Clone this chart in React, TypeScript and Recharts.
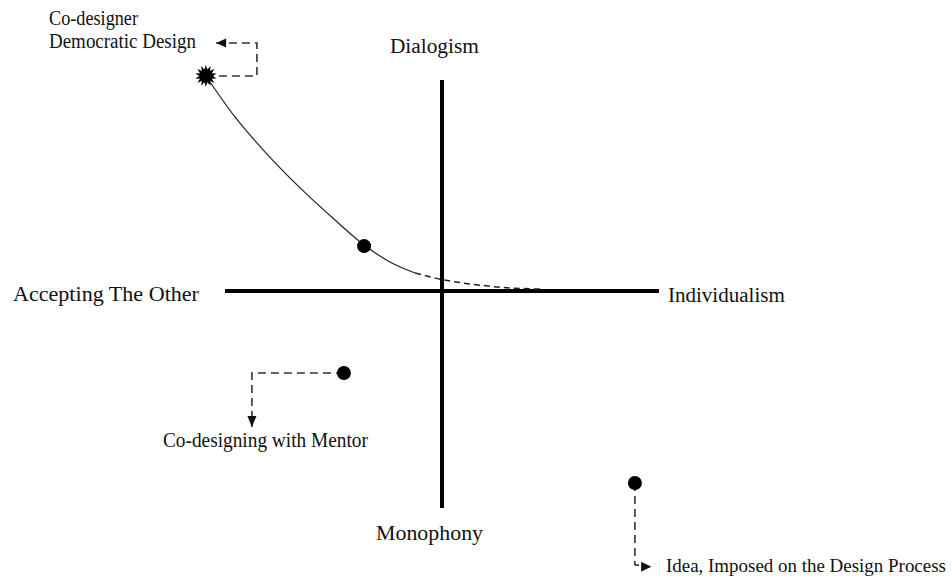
import React from 'react';
import { ComposedChart, XAxis, YAxis, Line, Scatter, ReferenceLine } from 'recharts';

// Conceptual space: the two axes span -1..1 in both directions
const horizontalAxis = [{ x: -1, y: 0 }, { x: 1, y: 0 }];
const verticalAxis = [{ x: 0, y: -1 }, { x: 0, y: 0.972 }];

// Trajectory from co-designer toward individualism
const curveSolid = [
  { x: -1.088, y: 0.991 },
  { x: -0.954, y: 0.802 },
  { x: -0.816, y: 0.641 },
  { x: -0.654, y: 0.475 },
  { x: -0.493, y: 0.327 },
  { x: -0.359, y: 0.212 },
  { x: -0.24, y: 0.134 },
  { x: -0.124, y: 0.083 },
];
const curveDashed = [
  { x: -0.124, y: 0.083 },
  { x: 0, y: 0.053 },
  { x: 0.175, y: 0.027 },
  { x: 0.313, y: 0.014 },
  { x: 0.461, y: 0.009 },
];

const starPoint = [{ x: -1.088, y: 0.991 }];
const milestones = [
  { x: -0.359, y: 0.207 },
  { x: -0.452, y: -0.378 },
  { x: 0.889, y: -0.885 },
];

const starConnector = [
  { x: -1.088, y: 0.991 },
  { x: -0.853, y: 0.991 },
  { x: -0.853, y: 1.143 },
  { x: -1.041, y: 1.143 },
];
const mentorConnector = [
  { x: -0.452, y: -0.378 },
  { x: -0.876, y: -0.378 },
  { x: -0.876, y: -0.627 },
];
const ideaConnector = [
  { x: 0.889, y: -0.885 },
  { x: 0.889, y: -1.262 },
  { x: 0.959, y: -1.271 },
];

const labelTexts = [
  'Co-designer',
  'Democratic Design',
  'Dialogism',
  'Accepting The Other',
  'Individualism',
  'Co-designing with Mentor',
  'Monophony',
  'Idea, Imposed on the Design Process',
];
const labelAnchors = [
  { x: -1.811, y: 1.226 },
  { x: -1.811, y: 1.12 },
  { x: -0.24, y: 1.097 },
  { x: -1.977, y: -0.046 },
  { x: 1.041, y: -0.051 },
  { x: -1.286, y: -0.719 },
  { x: -0.304, y: -1.147 },
  { x: 1.032, y: -1.295 },
];
const labels = labelTexts.map((text, i) => ({ text, ...labelAnchors[i] }));

const textWidths: Record<string, number> = {
  'Co-designer': 89,
  'Democratic Design': 147,
  Dialogism: 89,
  'Accepting The Other': 186,
  Individualism: 117,
  'Co-designing with Mentor': 205,
  Monophony: 107,
  'Idea, Imposed on the Design Process': 280,
};
const textSizes: Record<string, number> = {
  'Idea, Imposed on the Design Process': 18.5,
};

const W = 952;
const H = 581;
const UNIT = 217;
const CX = 442;
const CY = 291;
const X_DOMAIN: [number, number] = [-CX / UNIT, (W - CX) / UNIT];
const Y_DOMAIN: [number, number] = [-(H - CY) / UNIT, CY / UNIT];

const FONT = "'Liberation Serif', 'Times New Roman', serif";

const arrowDot = (dir: 'left' | 'down' | 'right', lastIndex: number) => (p: any) => {
  const { cx, cy, index } = p;
  if (index !== lastIndex || cx == null) return <g key={`a-${index}`} />;
  let d = '';
  if (dir === 'left') d = `M${cx},${cy} L${cx + 10},${cy - 4.5} L${cx + 10},${cy + 4.5} Z`;
  if (dir === 'down') d = `M${cx},${cy} L${cx - 4.5},${cy - 11} L${cx + 4.5},${cy - 11} Z`;
  if (dir === 'right') d = `M${cx + 1},${cy} L${cx - 9},${cy - 5} L${cx - 9},${cy + 5} Z`;
  return <path key={`a-${index}`} d={d} fill="#111" stroke="none" />;
};

const StarShape = (p: any) => {
  const { cx, cy } = p;
  const spikes = 14;
  const pts: string[] = [];
  for (let i = 0; i < spikes * 2; i++) {
    const r = i % 2 === 0 ? 11 : 6.5;
    const a = (Math.PI * i) / spikes - Math.PI / 2;
    pts.push(`${cx + r * Math.cos(a)},${cy + r * Math.sin(a)}`);
  }
  return <polygon points={pts.join(' ')} fill="#000" />;
};

const DotShape = (p: any) => <circle cx={p.cx} cy={p.cy} r={7} fill="#000" />;

const LabelShape = (p: any) => {
  const { cx, cy, payload } = p;
  return (
    <text
      x={cx}
      y={cy}
      fontFamily={FONT}
      fontSize={textSizes[payload.text] ?? 20}
      fill="#111"
      textLength={textWidths[payload.text]}
      lengthAdjust="spacingAndGlyphs"
    >
      {payload.text}
    </text>
  );
};

export default function App() {
  return (
    <div style={{ position: 'absolute', left: 0, top: 0, width: W, height: H, background: '#fff' }}>
      <ComposedChart width={W} height={H} margin={{ top: 0, right: 0, bottom: 0, left: 0 }}>
        <XAxis type="number" dataKey="x" domain={X_DOMAIN} hide allowDataOverflow />
        <YAxis type="number" dataKey="y" domain={Y_DOMAIN} hide allowDataOverflow />
        <ReferenceLine
          segment={[horizontalAxis[0], horizontalAxis[1]]}
          stroke="#000"
          strokeWidth={4}
          ifOverflow="visible"
        />
        <ReferenceLine
          segment={[verticalAxis[0], verticalAxis[1]]}
          stroke="#000"
          strokeWidth={4}
          ifOverflow="visible"
        />
        <Line
          data={curveSolid}
          dataKey="y"
          type="monotone"
          stroke="#222"
          strokeWidth={1.2}
          dot={false}
          activeDot={false}
          isAnimationActive={false}
        />
        <Line
          data={curveDashed}
          dataKey="y"
          type="monotone"
          stroke="#222"
          strokeWidth={1.5}
          strokeDasharray="6 4"
          dot={false}
          activeDot={false}
          isAnimationActive={false}
        />
        <Line
          data={starConnector}
          dataKey="y"
          type="linear"
          stroke="#333"
          strokeWidth={1.6}
          strokeDasharray="8 5"
          dot={arrowDot('left', starConnector.length - 1)}
          activeDot={false}
          isAnimationActive={false}
        />
        <Line
          data={mentorConnector}
          dataKey="y"
          type="linear"
          stroke="#333"
          strokeWidth={1.6}
          strokeDasharray="8 5"
          dot={arrowDot('down', mentorConnector.length - 1)}
          activeDot={false}
          isAnimationActive={false}
        />
        <Line
          data={ideaConnector}
          dataKey="y"
          type="linear"
          stroke="#333"
          strokeWidth={1.6}
          strokeDasharray="8 5"
          dot={arrowDot('right', ideaConnector.length - 1)}
          activeDot={false}
          isAnimationActive={false}
        />
        <Scatter data={starPoint} shape={StarShape} isAnimationActive={false} />
        <Scatter data={milestones} shape={DotShape} isAnimationActive={false} />
        <Scatter data={labels} shape={LabelShape} isAnimationActive={false} />
      </ComposedChart>
    </div>
  );
}
